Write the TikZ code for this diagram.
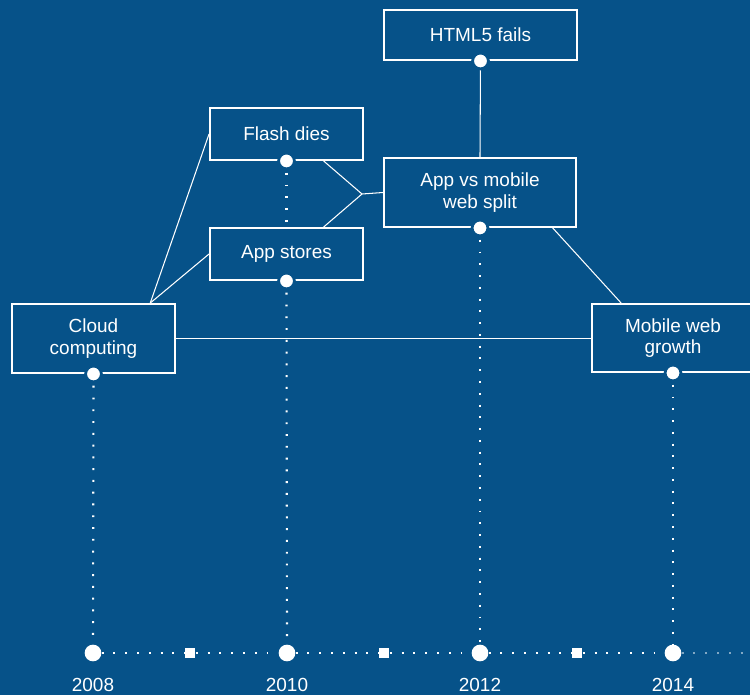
\documentclass[tikz,border=0pt]{standalone}
\usepackage{fontspec}
\setmainfont{Liberation Sans}
\usetikzlibrary{positioning}
\definecolor{bgblue}{RGB}{6,82,137}
\begin{document}
\begin{tikzpicture}[
  every node/.style={text=white, font=\fontsize{10.8}{12.4}\selectfont},
  box/.style={draw=white, line width=1.1pt, fill=bgblue, align=center, inner sep=0pt},
  dot/.style={circle, fill=white, draw=bgblue, line width=1.6pt, minimum size=9pt, inner sep=0pt},
  yeardot/.style={circle, fill=white, minimum size=9.5pt, inner sep=0pt},
  halfmark/.style={rectangle, fill=white, minimum size=5.2pt, inner sep=0pt},
  link/.style={white, line width=0.6pt},
  dots/.style={white, line width=1.2pt, dash pattern=on 1.1pt off 5.6pt}
]
\fill[bgblue] (0,0) rectangle (15,13.9);
\clip (0,0) rectangle (15,13.9);
\useasboundingbox (0,0) rectangle (15,13.9);

% timeline
\node[yeardot] (y2008) at (1.86,0.84) {};
\node[yeardot] (y2010) at (5.74,0.84) {};
\node[yeardot] (y2012) at (9.6,0.84) {};
\node[yeardot] (y2014) at (13.46,0.84) {};
\coordinate (tlend) at (15,0.84);
\draw[dots] (y2008) -- (y2010);
\draw[dots] (y2010) -- (y2012);
\draw[dots] (y2012) -- (y2014);
\draw[dots, opacity=0.5] (y2014) -- (tlend);
\node[halfmark] (h2009) at (3.8,0.84) {};
\node[halfmark] (h2011) at (7.68,0.84) {};
\node[halfmark] (h2013) at (11.54,0.84) {};
\node (l2008) at (1.86,0.2) {2008};
\node (l2010) at (5.74,0.2) {2010};
\node (l2012) at (9.6,0.2) {2012};
\node (l2014) at (13.46,0.2) {2014};

% boxes
\node[box, minimum width=3.86cm, minimum height=1cm] (html) at (9.61,13.2) {HTML5 fails};
\node[box, minimum width=3.06cm, minimum height=1.04cm] (flash) at (5.73,11.22) {Flash dies};
\node[box, minimum width=3.06cm, minimum height=1.04cm] (stores) at (5.73,8.82) {App stores};
\node[box, minimum width=3.84cm, minimum height=1.38cm] (split) at (9.6,10.05) {App vs mobile\\web split};
\node[box, minimum width=3.26cm, minimum height=1.38cm] (cloud) at (1.87,7.13) {Cloud\\computing};
\node[box, minimum width=3.24cm, minimum height=1.36cm] (mobile) at (13.46,7.14) {Mobile web\\growth};

% connectors
\coordinate (join) at (7.24,10.02);
\draw[link] (flash.-36) -- (join);
\draw[link] (stores.36) -- (join);
\draw[link] (join) -- (split.west);
\draw[link] (html.south) -- (split.north);
\draw[link] (cloud.32) -- (flash.west);
\draw[link] (cloud.32) -- (stores.west);
\draw[link] (cloud.east) -- (cloud.east -| mobile.west);
\draw[link] (split.-26.6) -- (mobile.146);

% dotted drops
\draw[dots] (flash.south) -- (stores.north);
\draw[dots] (stores.south) -- (y2010);
\draw[dots] (cloud.south) -- (y2008);
\draw[dots] (split.south) -- (y2012);
\draw[dots] (mobile.south) -- (y2014);

% dots on boxes
\node[dot] (htmldot) at (html.south) {};
\node[dot] (flashdot) at (flash.south) {};
\node[dot] (storesdot) at (stores.south) {};
\node[dot] (splitdot) at (split.south) {};
\node[dot] (clouddot) at (cloud.south) {};
\node[dot] (mobiledot) at (mobile.south) {};
\end{tikzpicture}
\end{document}
